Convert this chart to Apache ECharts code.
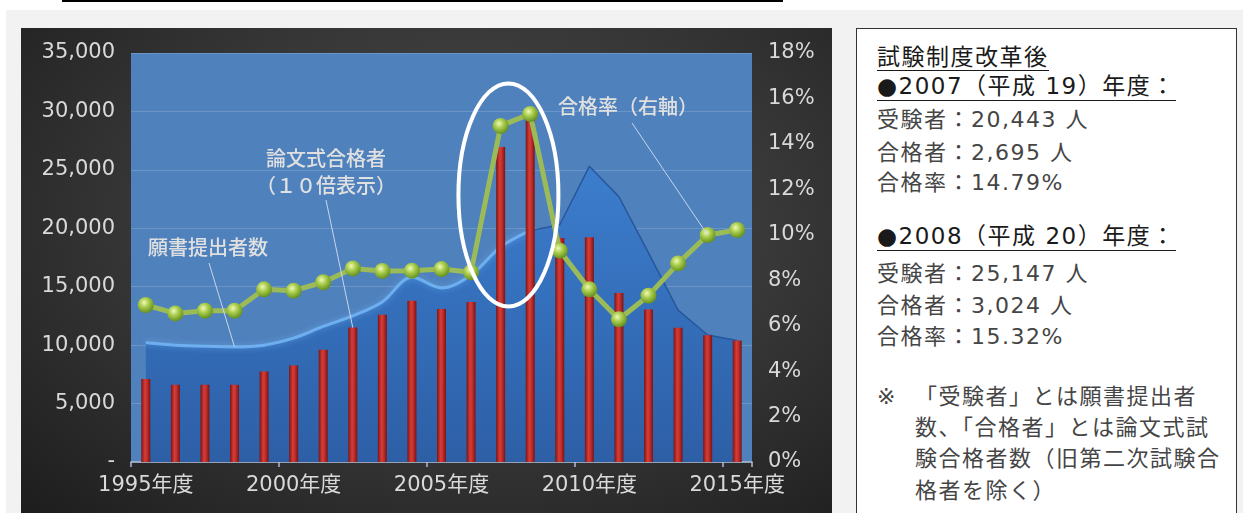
<!DOCTYPE html>
<html lang="ja">
<head>
<meta charset="utf-8">
<title>公認会計士試験の推移</title>
<script src="https://cdn.jsdelivr.net/npm/echarts@6.0.0/dist/echarts.min.js"></script>
<style>
  html, body { margin: 0; padding: 0; }
  body {
    width: 1243px; height: 513px; overflow: hidden; position: relative;
    background: #fff;
    font-family: "Noto Sans CJK JP", sans-serif;
  }
  #topline { position: absolute; left: 62px; top: 0; width: 721px; height: 2px; background: #000; }
  #panel { position: absolute; left: 6px; top: 10px; right: 0; bottom: 0; background: #f2f2f2; }
  #dark {
    position: absolute; left: 21px; top: 28px; width: 811px; height: 485px;
    background: radial-gradient(ellipse farthest-corner at 55% 40%, #4c4c4c 0%, #3a3a3a 45%, #1d1d1d 100%);
  }
  #chart { position: absolute; left: 21px; top: 28px; width: 811px; height: 485px; }
  #box {
    position: absolute; left: 856px; top: 28px; width: 381px; height: 520px;
    background: #fff; border: 1px solid #333; box-sizing: border-box;
  }
  .ln {
    position: absolute; left: 20px; white-space: nowrap;
    font-family: "DejaVu Sans", "Noto Sans CJK JP", sans-serif;
    font-size: 22px; letter-spacing: 1.5px; color: #454545;
    height: 28px; line-height: 28px;
  }
  .hd { color: #1a1a1a; font-size: 23px; }
  .hd span { display: inline-block; border-bottom: 1.5px solid #1a1a1a; }
  .ind { left: 58px; }
</style>
</head>
<body>
<div id="topline"></div>
<div id="panel"></div>
<div id="dark"></div>
<div id="chart"></div>
<div id="box">
  <div class="ln hd" style="top:14px"><span style="line-height:25px">試験制度改革後</span></div>
  <div class="ln hd" style="top:43px"><span>●2007（平成 19）年度：</span></div>
  <div class="ln" style="top:77px">受験者：20,443 人</div>
  <div class="ln" style="top:110px">合格者：2,695 人</div>
  <div class="ln" style="top:140px">合格率：14.79%</div>
  <div class="ln hd" style="top:193px"><span>●2008（平成 20）年度：</span></div>
  <div class="ln" style="top:231px">受験者：25,147 人</div>
  <div class="ln" style="top:263px">合格者：3,024 人</div>
  <div class="ln" style="top:294px">合格率：15.32%</div>
  <div class="ln" style="top:354px">※</div>
  <div class="ln ind" style="top:354px">「受験者」とは願書提出者</div>
  <div class="ln ind" style="top:385px">数、「合格者」とは論文式試</div>
  <div class="ln ind" style="top:416px">験合格者数（旧第二次試験合</div>
  <div class="ln ind" style="top:448px">格者を除く）</div>
</div>

<script>
// 年度
const years = ['1995年度','1996年度','1997年度','1998年度','1999年度','2000年度','2001年度',
  '2002年度','2003年度','2004年度','2005年度','2006年度','2007年度','2008年度','2009年度',
  '2010年度','2011年度','2012年度','2013年度','2014年度','2015年度'];

// 願書提出者数（人）
const applicants = [10200, 10000, 9900, 9850, 10000, 10600, 11600, 12500, 13700, 15800,
  14900, 16000, 18400, 19800, 20300, 25300, 22700, 17900, 13000, 10870, 10400];

// 論文式合格者（10倍表示）
const passers10x = [7100, 6600, 6600, 6600, 7750, 8250, 9600, 11500, 12600, 13800,
  13100, 13700, 26950, 30240, 19160, 19230, 14470, 13050, 11490, 10850, 10400];

// 合格率（%、右軸）
const passRate = [6.91, 6.54, 6.66, 6.66, 7.60, 7.54, 7.91, 8.52, 8.41, 8.42,
  8.49, 8.35, 14.79, 15.32, 9.30, 7.60, 6.28, 7.32, 8.74, 9.99, 10.21];

// 左軸・右軸の目盛
const leftTicks = { min: 0, max: 35000, step: 5000 };
const rightTicks = { min: 0, max: 18, step: 2 };

// 改革前（曲線）と改革後（折れ線）で面を分ける
const splitIdx = 13;
const applicantsOld = applicants.map((v, i) => (i <= splitIdx ? v : null));
const applicantsNew = applicants.map((v, i) => (i >= splitIdx ? v : null));

const labelColor = '#d9d9d9';
const numFont = '"DejaVu Sans", "Noto Sans CJK JP", sans-serif';
const jpFont = '"Noto Sans CJK JP", sans-serif';

const myChart = echarts.init(document.getElementById('chart'), null, { renderer: 'canvas' });

// 面の塗り（グリッド基準の絶対座標で揃える）
const areaFill = () => new echarts.graphic.LinearGradient(0, 25, 0, 434, [
  { offset: 0, color: '#4189dc' },
  { offset: 1, color: '#2d5fa6' },
], true);

const option = {
  animation: false,
  grid: {
    left: 110, right: 80, top: 25, bottom: 51,
    show: true, backgroundColor: '#4f81bd', borderWidth: 0,
  },
  xAxis: {
    type: 'category',
    data: years,
    boundaryGap: true,
    axisLine: { lineStyle: { color: '#aebfd6', width: 1.5 } },
    axisTick: { show: true, interval: 4, length: 5, lineStyle: { color: '#aebfd6', width: 1.5 } },
    axisLabel: { interval: 4, color: labelColor, fontSize: 21, fontFamily: numFont, margin: 13 },
  },
  yAxis: [
    {
      type: 'value',
      min: leftTicks.min, max: leftTicks.max, interval: leftTicks.step,
      axisLine: { show: false },
      axisTick: { show: false },
      axisLabel: {
        color: labelColor, fontSize: 21, fontFamily: numFont, margin: 16,
        formatter: v => (v === 0 ? '-' : v.toLocaleString('en-US')),
      },
      splitLine: { lineStyle: { color: 'rgba(255,255,255,0.16)', width: 1 } },
    },
    {
      type: 'value',
      position: 'right',
      min: rightTicks.min, max: rightTicks.max, interval: rightTicks.step,
      axisLine: { show: false },
      axisTick: { show: false },
      axisLabel: { color: labelColor, fontSize: 21, fontFamily: numFont, margin: 16, formatter: '{value}%' },
      splitLine: { show: false },
    },
  ],
  series: [
    {
      name: '願書提出者数',
      type: 'line',
      data: applicantsOld,
      smooth: 0.35,
      symbol: 'none',
      lineStyle: { color: '#73b6f7', width: 3, opacity: 0.85, shadowColor: 'rgba(120,190,255,0.6)', shadowBlur: 6 },
      areaStyle: { color: areaFill(), opacity: 1 },
      z: 1,
    },
    {
      name: '願書提出者数（改革後）',
      type: 'line',
      data: applicantsNew,
      smooth: false,
      symbol: 'none',
      lineStyle: { color: '#27579a', width: 1.5 },
      areaStyle: { color: areaFill(), opacity: 1 },
      z: 1,
    },
    {
      name: '論文式合格者',
      type: 'bar',
      data: passers10x,
      barWidth: 9,
      itemStyle: {
        color: new echarts.graphic.LinearGradient(0, 0, 1, 0, [
          { offset: 0, color: '#7c1515' },
          { offset: 0.4, color: '#d43c37' },
          { offset: 0.6, color: '#c8322e' },
          { offset: 1, color: '#771414' },
        ]),
      },
      z: 2,
    },
    {
      name: '合格率',
      type: 'line',
      yAxisIndex: 1,
      data: passRate,
      symbol: 'circle',
      symbolSize: 16,
      lineStyle: { color: '#9bbb59', width: 5 },
      itemStyle: {
        color: new echarts.graphic.RadialGradient(0.4, 0.35, 0.65, [
          { offset: 0, color: '#f0f9b8' },
          { offset: 0.45, color: '#a8cc4c' },
          { offset: 1, color: '#66901f' },
        ]),
      },
      z: 3,
    },
  ],
};

myChart.setOption(option);

// 注記（引き出し線の先はデータ位置から求める）
const px = (seriesIndex, i, v) => myChart.convertToPixel({ seriesIndex }, [i, v]);
const pA = px(0, 3, applicants[3]);
const pB = px(2, 7, passers10x[7]);
const pR = px(3, 19, passRate[19]);
const e1 = px(2, 12, 32400);
const e2 = px(2, 13, 13300);
const leader = { stroke: '#c9d6e8', lineWidth: 1 };
const noteText = (x, y, text, align) => ({
  type: 'text', x, y, z: 10,
  style: { text, fill: '#e0e0e0', font: '500 20px ' + jpFont, textAlign: align, textVerticalAlign: 'middle' },
});

myChart.setOption({
  graphic: [
    noteText(127, 219, '願書提出者数', 'left'),
    noteText(305, 130, '論文式合格者', 'center'),
    noteText(305, 157, '（１０倍表示）', 'center'),
    noteText(607, 78, '合格率（右軸）', 'center'),
    { type: 'line', z: 10, shape: { x1: 188, y1: 235, x2: pA[0], y2: pA[1] }, style: leader },
    { type: 'line', z: 10, shape: { x1: 305, y1: 172, x2: pB[0], y2: pB[1] }, style: leader },
    { type: 'line', z: 10, shape: { x1: 611, y1: 95, x2: pR[0], y2: pR[1] }, style: leader },
    {
      type: 'ellipse', z: 11,
      shape: { cx: (e1[0] + e2[0]) / 2 - 7, cy: (e1[1] + e2[1]) / 2, rx: 50, ry: (e2[1] - e1[1]) / 2 },
      style: { fill: 'none', stroke: '#ffffff', lineWidth: 4 },
    },
  ],
});

window.addEventListener('resize', () => myChart.resize());
</script>
</body>
</html>
